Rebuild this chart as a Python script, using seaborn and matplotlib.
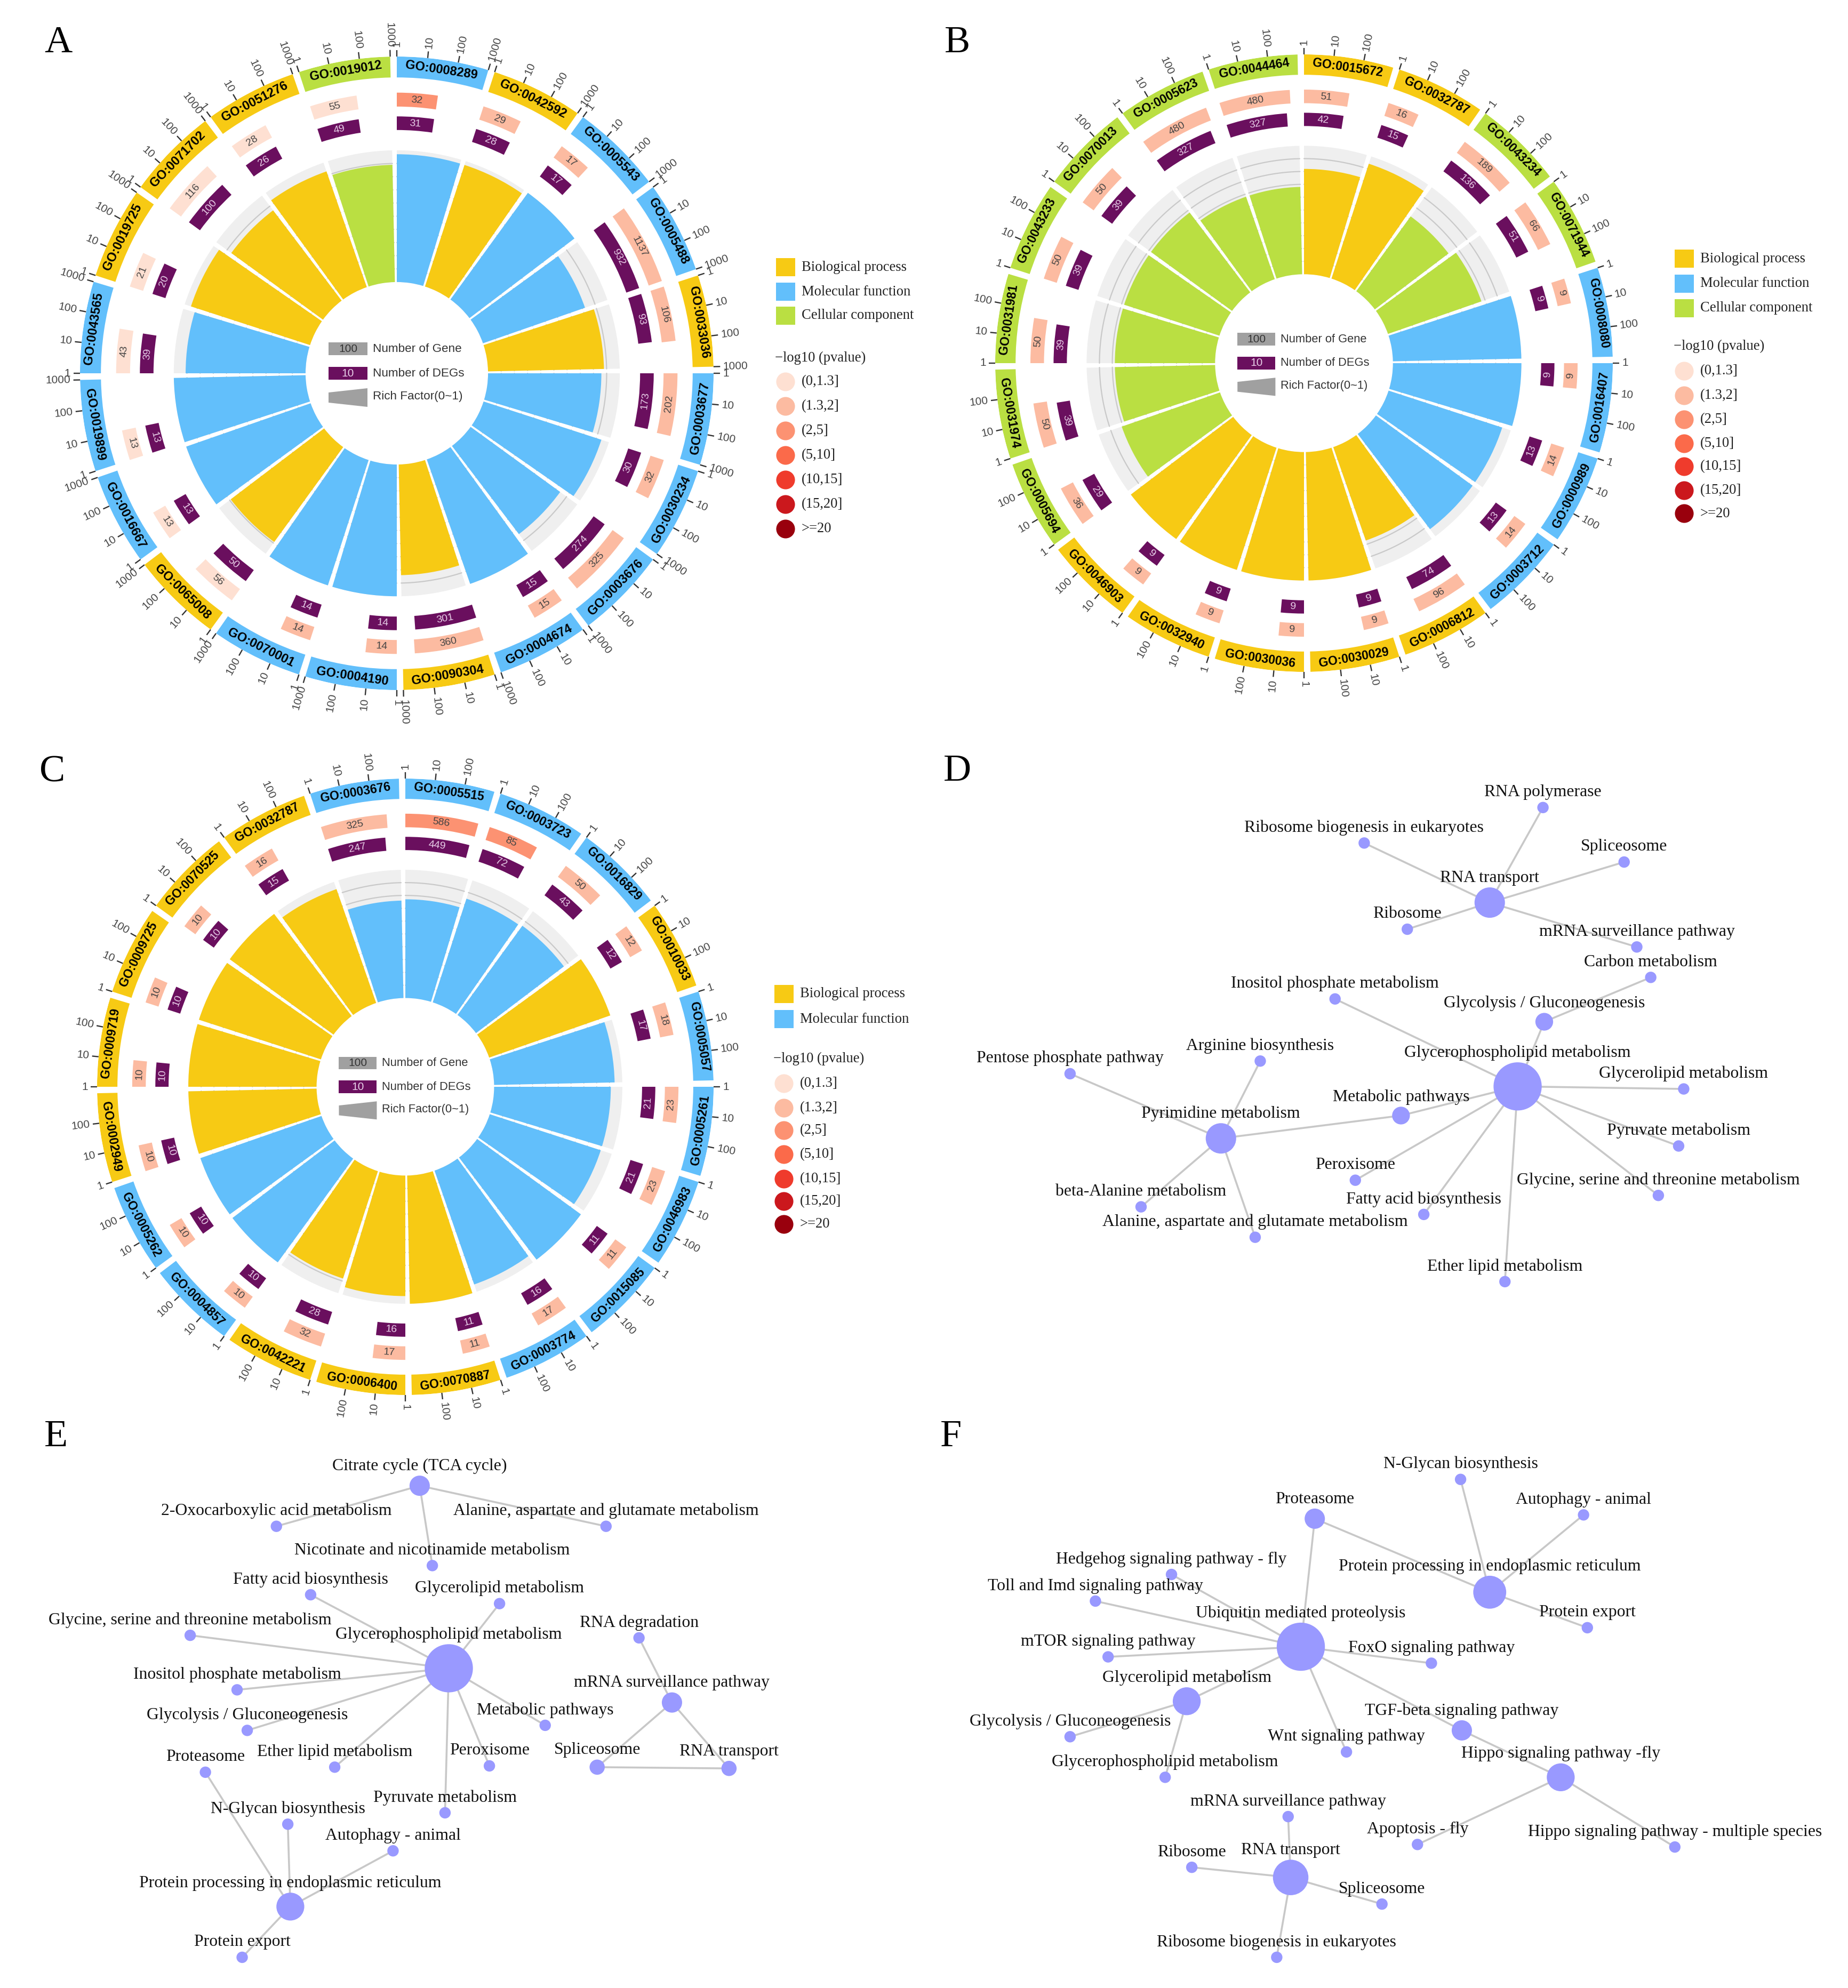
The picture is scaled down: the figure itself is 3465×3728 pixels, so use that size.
import numpy as np
import pandas as pd
import matplotlib
matplotlib.use("Agg")
import matplotlib.pyplot as plt
import seaborn as sns

sns.set_theme(style="white")
plt.rcParams['font.family'] = ['Liberation Sans', 'DejaVu Sans']

W, H = 3466, 3728
S = W / 1458  # network positions were read on the 1458 px preview
SERIF = 'Liberation Serif'

CAT_COLORS = {"BP": "#F7CA14", "MF": "#62BFFB", "CC": "#BADF42"}
CAT_NAMES = {"BP": "Biological process", "MF": "Molecular function", "CC": "Cellular component"}
REDS = ["#FEE0D2", "#FCBBA1", "#FC9272", "#FB6A4A", "#EF3B2C", "#CB181D", "#99000D"]
PV_LABELS = ["(0,1.3]", "(1.3,2]", "(2,5]", "(5,10]", "(10,15]", "(15,20]", ">=20"]
PURPLE = "#6A0F5E"
GREY = "#A0A0A0"

# ---- panel A
go_a = ["0008289", "0042592", "0005543", "0005488", "0033036", "0003677", "0030234", "0003676", "0004674", "0090304",
        "0004190", "0070001", "0065008", "0016667", "0019899", "0043565", "0019725", "0071702", "0051276", "0019012"]
cat_a = ["MF", "BP", "MF", "MF", "BP", "MF", "MF", "MF", "MF", "BP",
         "MF", "MF", "BP", "MF", "MF", "MF", "BP", "BP", "BP", "CC"]
gene_a = [32, 29, 17, 1137, 106, 202, 32, 325, 15, 360, 14, 14, 56, 13, 13, 43, 21, 116, 28, 55]
deg_a = [31, 28, 17, 932, 93, 173, 30, 274, 15, 301, 14, 14, 50, 13, 13, 39, 20, 100, 26, 49]
rich_a = [.97, .97, 1, .82, .88, .86, .94, .84, 1, .84, 1, 1, .89, 1, 1, .91, .95, .86, .93, .89]
pv_a = [2, 1, 1, 1, 1, 1, 1, 1, 1, 1, 1, 1, 0, 0, 0, 0, 0, 0, 0, 0]

# ---- panel B
go_b = ["0015672", "0032787", "0043234", "0071944", "0008080", "0016407", "0000989", "0003712", "0006812", "0030029",
        "0030036", "0032940", "0046903", "0005694", "0031974", "0031981", "0043233", "0070013", "0005623", "0044464"]
cat_b = ["BP", "BP", "CC", "CC", "MF", "MF", "MF", "MF", "BP", "BP",
         "BP", "BP", "BP", "CC", "CC", "CC", "CC", "CC", "CC", "CC"]
gene_b = [51, 16, 189, 66, 9, 9, 14, 14, 96, 9, 9, 9, 9, 36, 50, 50, 50, 50, 480, 480]
deg_b = [42, 15, 136, 51, 9, 9, 13, 13, 74, 9, 9, 9, 9, 29, 39, 39, 39, 39, 327, 327]
rich_b = [.82, .94, .72, .77, 1, 1, .93, .93, .77, 1, 1, 1, 1, .81, .78, .78, .78, .78, .68, .68]
pv_b = [1] * 20

# ---- panel C
go_c = ["0005515", "0003723", "0016829", "0010033", "0005057", "0005261", "0046983", "0015085", "0003774", "0070887",
        "0006400", "0042221", "0004857", "0005262", "0002949", "0009719", "0009725", "0070525", "0032787", "0003676"]
cat_c = ["MF", "MF", "MF", "BP", "MF", "MF", "MF", "MF", "MF", "BP",
         "BP", "BP", "MF", "MF", "BP", "BP", "BP", "BP", "BP", "MF"]
gene_c = [586, 85, 50, 12, 18, 23, 23, 11, 17, 11, 17, 32, 10, 10, 10, 10, 10, 10, 16, 325]
deg_c = [449, 72, 43, 12, 17, 21, 21, 11, 16, 11, 16, 28, 10, 10, 10, 10, 10, 10, 15, 247]
rich_c = [.77, .85, .86, 1, .94, .91, .91, 1, .94, 1, .94, .88, 1, 1, 1, 1, 1, 1, .94, .76]
pv_c = [2, 2, 1, 1, 1, 1, 1, 1, 1, 1, 1, 1, 1, 1, 1, 1, 1, 1, 1, 1]

# ---- networks: name, x, y, node radius (preview px)
net_d = [
    ("RNA polymerase", 1217, 637, 4.5), ("Ribosome biogenesis in eukaryotes", 1076, 665, 4.5),
    ("Spliceosome", 1281, 680, 4.5), ("RNA transport", 1175, 712, 12), ("Ribosome", 1110, 733, 4.5),
    ("mRNA surveillance pathway", 1291, 747, 4.5), ("Carbon metabolism", 1302, 771, 4.5),
    ("Inositol phosphate metabolism", 1053, 788, 4.5), ("Glycolysis / Gluconeogenesis", 1218, 806, 7),
    ("Glycerophospholipid metabolism", 1197, 857, 19), ("Glycerolipid metabolism", 1328, 859, 4.5),
    ("Arginine biosynthesis", 994, 837, 4.5), ("Pentose phosphate pathway", 844, 847, 4.5),
    ("Metabolic pathways", 1105, 880, 7), ("Pyrimidine metabolism", 963, 898, 12),
    ("Pyruvate metabolism", 1324, 904, 4.5), ("Peroxisome", 1069, 931, 4.5),
    ("beta-Alanine metabolism", 900, 952, 4.5), ("Fatty acid biosynthesis", 1123, 958, 4.5),
    ("Alanine, aspartate and glutamate metabolism", 990, 976, 4.5),
    ("Glycine, serine and threonine metabolism", 1308, 943, 4.5), ("Ether lipid metabolism", 1187, 1011, 4.5),
]
edges_d = [
    ("RNA transport", "RNA polymerase"), ("RNA transport", "Ribosome biogenesis in eukaryotes"),
    ("RNA transport", "Spliceosome"), ("RNA transport", "Ribosome"), ("RNA transport", "mRNA surveillance pathway"),
    ("Glycolysis / Gluconeogenesis", "Carbon metabolism"),
    ("Glycerophospholipid metabolism", "Inositol phosphate metabolism"),
    ("Glycerophospholipid metabolism", "Glycolysis / Gluconeogenesis"),
    ("Glycerophospholipid metabolism", "Glycerolipid metabolism"),
    ("Glycerophospholipid metabolism", "Metabolic pathways"),
    ("Glycerophospholipid metabolism", "Pyruvate metabolism"),
    ("Glycerophospholipid metabolism", "Peroxisome"),
    ("Glycerophospholipid metabolism", "Fatty acid biosynthesis"),
    ("Glycerophospholipid metabolism", "Glycine, serine and threonine metabolism"),
    ("Glycerophospholipid metabolism", "Ether lipid metabolism"),
    ("Pyrimidine metabolism", "Arginine biosynthesis"), ("Pyrimidine metabolism", "Pentose phosphate pathway"),
    ("Pyrimidine metabolism", "Metabolic pathways"), ("Pyrimidine metabolism", "beta-Alanine metabolism"),
    ("Pyrimidine metabolism", "Alanine, aspartate and glutamate metabolism"),
]

net_e = [
    ("Citrate cycle (TCA cycle)", 331, 1172, 8), ("2-Oxocarboxylic acid metabolism", 218, 1204, 4.5),
    ("Alanine, aspartate and glutamate metabolism", 478, 1204, 4.5),
    ("Nicotinate and nicotinamide metabolism", 341, 1235, 4.5), ("Fatty acid biosynthesis", 245, 1258, 4.5),
    ("Glycerolipid metabolism", 394, 1265, 4.5), ("Glycine, serine and threonine metabolism", 150, 1290, 4.5),
    ("RNA degradation", 504, 1292, 4.5), ("Glycerophospholipid metabolism", 354, 1316, 19),
    ("Inositol phosphate metabolism", 187, 1333, 4.5), ("mRNA surveillance pathway", 530, 1343, 8),
    ("Metabolic pathways", 430, 1361, 4.5), ("Glycolysis / Gluconeogenesis", 195, 1365, 4.5),
    ("Ether lipid metabolism", 264, 1394, 4.5), ("Peroxisome", 386, 1393, 4.5), ("Spliceosome", 471, 1394, 6),
    ("RNA transport", 575, 1395, 6), ("Proteasome", 162, 1398, 4.5), ("Pyruvate metabolism", 351, 1430, 4.5),
    ("N-Glycan biosynthesis", 227, 1439, 4.5), ("Autophagy - animal", 310, 1460, 4.5),
    ("Protein processing in endoplasmic reticulum", 229, 1504, 11), ("Protein export", 191, 1544, 4.5),
]
edges_e = [
    ("Citrate cycle (TCA cycle)", "2-Oxocarboxylic acid metabolism"),
    ("Citrate cycle (TCA cycle)", "Alanine, aspartate and glutamate metabolism"),
    ("Citrate cycle (TCA cycle)", "Nicotinate and nicotinamide metabolism"),
    ("Glycerophospholipid metabolism", "Fatty acid biosynthesis"),
    ("Glycerophospholipid metabolism", "Glycerolipid metabolism"),
    ("Glycerophospholipid metabolism", "Glycine, serine and threonine metabolism"),
    ("Glycerophospholipid metabolism", "Inositol phosphate metabolism"),
    ("Glycerophospholipid metabolism", "Metabolic pathways"),
    ("Glycerophospholipid metabolism", "Glycolysis / Gluconeogenesis"),
    ("Glycerophospholipid metabolism", "Ether lipid metabolism"),
    ("Glycerophospholipid metabolism", "Peroxisome"), ("Glycerophospholipid metabolism", "Pyruvate metabolism"),
    ("mRNA surveillance pathway", "RNA degradation"), ("mRNA surveillance pathway", "Spliceosome"),
    ("mRNA surveillance pathway", "RNA transport"), ("Spliceosome", "RNA transport"),
    ("Protein processing in endoplasmic reticulum", "Proteasome"),
    ("Protein processing in endoplasmic reticulum", "N-Glycan biosynthesis"),
    ("Protein processing in endoplasmic reticulum", "Autophagy - animal"),
    ("Protein processing in endoplasmic reticulum", "Protein export"),
]

net_f = [
    ("N-Glycan biosynthesis", 1152, 1167, 4.5), ("Autophagy - animal", 1249, 1195, 4.5), ("Proteasome", 1037, 1198, 8),
    ("Hedgehog signaling pathway - fly", 924, 1242, 4.5),
    ("Protein processing in endoplasmic reticulum", 1175, 1256, 13),
    ("Toll and Imd signaling pathway", 864, 1263, 4.5), ("Protein export", 1252, 1284, 4.5),
    ("Ubiquitin mediated proteolysis", 1026, 1299, 19), ("FoxO signaling pathway", 1129, 1312, 4.5),
    ("mTOR signaling pathway", 874, 1307, 4.5), ("Glycerolipid metabolism", 936, 1342, 11),
    ("TGF-beta signaling pathway", 1153, 1365, 8), ("Glycolysis / Gluconeogenesis", 844, 1370, 4.5),
    ("Wnt signaling pathway", 1062, 1382, 4.5), ("Hippo signaling pathway -fly", 1231, 1402, 11),
    ("Glycerophospholipid metabolism", 919, 1402, 4.5), ("mRNA surveillance pathway", 1016, 1433, 4.5),
    ("Apoptosis - fly", 1118, 1455, 4.5), ("Hippo signaling pathway - multiple species", 1321, 1457, 4.5),
    ("Ribosome", 940, 1473, 4.5), ("RNA transport", 1018, 1481, 14), ("Spliceosome", 1090, 1502, 4.5),
    ("Ribosome biogenesis in eukaryotes", 1007, 1544, 4.5),
]
edges_f = [
    ("Proteasome", "Ubiquitin mediated proteolysis"), ("Proteasome", "Protein processing in endoplasmic reticulum"),
    ("Protein processing in endoplasmic reticulum", "N-Glycan biosynthesis"),
    ("Protein processing in endoplasmic reticulum", "Autophagy - animal"),
    ("Protein processing in endoplasmic reticulum", "Protein export"),
    ("Ubiquitin mediated proteolysis", "Hedgehog signaling pathway - fly"),
    ("Ubiquitin mediated proteolysis", "Toll and Imd signaling pathway"),
    ("Ubiquitin mediated proteolysis", "FoxO signaling pathway"),
    ("Ubiquitin mediated proteolysis", "mTOR signaling pathway"),
    ("Ubiquitin mediated proteolysis", "Glycerolipid metabolism"),
    ("Ubiquitin mediated proteolysis", "Wnt signaling pathway"),
    ("Ubiquitin mediated proteolysis", "TGF-beta signaling pathway"),
    ("Glycerolipid metabolism", "Glycolysis / Gluconeogenesis"),
    ("Glycerolipid metabolism", "Glycerophospholipid metabolism"),
    ("TGF-beta signaling pathway", "Hippo signaling pathway -fly"),
    ("Hippo signaling pathway -fly", "Apoptosis - fly"),
    ("Hippo signaling pathway -fly", "Hippo signaling pathway - multiple species"),
    ("RNA transport", "mRNA surveillance pathway"), ("RNA transport", "Ribosome"),
    ("RNA transport", "Spliceosome"), ("RNA transport", "Ribosome biogenesis in eukaryotes"),
]

fig = plt.figure(figsize=(W / 100, H / 100), dpi=100, facecolor="white")

# page axes in pixels, for everything that is not on a circle
page = fig.add_axes([0, 0, 1, 1])
page.set_xlim(0, W)
page.set_ylim(H, 0)
page.set_axis_off()


def draw_circle(cx, cy, R, go, cats, genes, degs, rich, pvs, n_ticks):
    ax = fig.add_axes([(cx - R) / W, 1 - (cy + R) / H, 2 * R / W, 2 * R / H], polar=True)
    ax.set_theta_zero_location("N")
    ax.set_theta_direction(-1)
    ax.set_axis_off()

    step = np.deg2rad(18)
    width = np.deg2rad(16.8)
    r_in, r_rich = 0.288, 0.704
    tick_names = ["1", "10", "100", "1000"]

    for i in range(len(go)):
        t0 = i * step
        color = CAT_COLORS[cats[i]]
        mid = np.rad2deg(t0 + width / 2)

        # rich factor sector with its grey backing and grid arcs
        ax.bar(t0, r_rich - r_in, width=width, bottom=r_in, align="edge", color="#EFEFEF", linewidth=0, zorder=1)
        arc = np.linspace(t0, t0 + width, 30)
        for f in np.arange(0.1, 0.95, 0.1):
            ax.plot(arc, np.full(30, r_in + f * (r_rich - r_in)), color="#C9C9C9", lw=1.6, zorder=2)
        ax.bar(t0, rich[i] * (r_rich - r_in), width=width, bottom=r_in, align="edge", color=color, linewidth=0, zorder=3)

        # outer GO band
        ax.bar(t0, 1 - 0.934, width=width, bottom=0.934, align="edge", color=color, linewidth=0, zorder=3)
        rot = -mid if np.cos(np.deg2rad(mid)) > 0 else 180 - mid
        ax.text(np.deg2rad(mid), 0.967, "GO:" + go[i], rotation=rot, rotation_mode="anchor", ha="center", va="center",
                fontsize=17 * R / 594, fontweight="bold", color="black", zorder=5)

        # gene and DEG rings, length on a log scale up to 1000
        for val, r0, r1, fc, tc in [(genes[i], 0.842, 0.886, REDS[pvs[i]], "#444444"),
                                    (degs[i], 0.768, 0.811, PURPLE, "#E8CFE8")]:
            span = min(np.log10(val) / 3, 1) * width
            ax.bar(t0, r1 - r0, width=span, bottom=r0, align="edge", color=fc, linewidth=0, zorder=3)
            m = np.rad2deg(t0 + span / 2)
            rot = -m if np.cos(np.deg2rad(m)) > 0 else 180 - m
            ax.text(np.deg2rad(m), (r0 + r1) / 2, str(val), rotation=rot, rotation_mode="anchor", ha="center",
                    va="center", fontsize=14, color=tc, zorder=5)

        # log axis ticks outside the band
        for k in range(n_ticks):
            t = t0 + k / 3 * width
            ax.plot([t, t], [1.0, 1.021], color="#333333", lw=1.7, zorder=4, solid_capstyle="butt", clip_on=False)
            deg = np.rad2deg(t)
            if deg <= 180:
                rot, ha = 90 - deg, "left"
            else:
                rot, ha = 270 - deg, "right"
            ax.text(t, 1.03, tick_names[k], rotation=rot, rotation_mode="anchor", ha=ha, va="center",
                    fontsize=15, color="#444444", zorder=5)

    ax.set_xlim(0, 2 * np.pi)
    ax.set_ylim(0, 1)

    # key in the middle of the circle
    k = R / 594
    x0, x1, xt = cx - 128 * k, cx - 55 * k, cx - 45 * k
    page.fill([x0, x1, x1, x0], [cy - 58 * k, cy - 58 * k, cy - 34 * k, cy - 34 * k], color=GREY, lw=0)
    page.fill([x0, x1, x1, x0], [cy - 12 * k, cy - 12 * k, cy + 12 * k, cy + 12 * k], color=PURPLE, lw=0)
    page.fill([x0, x1, x1, x0], [cy + 36 * k, cy + 28 * k, cy + 63 * k, cy + 55 * k], color=GREY, lw=0)
    xm = (x0 + x1) / 2
    page.text(xm, cy - 46 * k, "100", ha="center", va="center", fontsize=15, color="#333333")
    page.text(xm, cy, "10", ha="center", va="center", fontsize=15, color="#E8CFE8")
    for yy, name in [(-46, "Number of Gene"), (0, "Number of DEGs"), (44, "Rich Factor(0~1)")]:
        page.text(xt, cy + yy * k, name, ha="left", va="center", fontsize=16.2 * k, color="#333333")


def draw_legend(x_box, x_text, cat_y, cat_list, title_y, pv_y):
    for y, c in zip(cat_y, cat_list):
        page.fill([x_box, x_box + 36, x_box + 36, x_box], [y - 17, y - 17, y + 17, y + 17], color=CAT_COLORS[c], lw=0)
        page.text(x_text, y, CAT_NAMES[c], ha="left", va="center", family=SERIF, fontsize=19.2, color="#222222")
    page.text(x_box - 2, title_y, "\u2212log10 (pvalue)", ha="left", va="center", family=SERIF, fontsize=19.2,
              color="#222222")
    sns.scatterplot(x=[x_box + 18] * 7, y=pv_y, hue=PV_LABELS, palette=REDS, s=640, linewidth=0, legend=False, ax=page)
    for y, name in zip(pv_y, PV_LABELS):
        page.text(x_text, y, name, ha="left", va="center", family=SERIF, fontsize=19.2, color="#222222")


def draw_network(nodes, edges):
    df = pd.DataFrame(nodes, columns=["name", "x", "y", "r"])
    df["x"] *= S
    df["y"] *= S
    pos = df.set_index("name")
    for a, b in edges:
        page.plot([pos.x[a], pos.x[b]], [pos.y[a], pos.y[b]], color="#C8C8C8", lw=2.6, zorder=1)
    df["area"] = (2 * df["r"] * S * 0.72) ** 2
    sns.scatterplot(data=df, x="x", y="y", s=df["area"], color="#9999FF", linewidth=0, legend=False, ax=page, zorder=2)
    for _, row in df.iterrows():
        page.text(row.x, row.y - (row.r + 7.5) * S, row["name"], ha="center", va="center", family=SERIF,
                  fontsize=22.9, color="#111111", zorder=3)


draw_circle(744, 700, 594, go_a, cat_a, gene_a, deg_a, rich_a, pv_a, 4)
draw_circle(2445, 681, 579, go_b, cat_b, gene_b, deg_b, rich_b, pv_b, 3)
draw_circle(760, 2038, 578, go_c, cat_c, gene_c, deg_c, rich_c, pv_c, 3)

draw_legend(1455, 1503, [501, 547, 592], ["BP", "MF", "CC"], 671, [716, 762, 808, 854, 900, 946, 992])
draw_legend(3140, 3188, [485, 532, 578], ["BP", "MF", "CC"], 649, [696, 742, 787, 832, 875, 920, 963])
draw_legend(1452, 1500, [1864, 1911], ["BP", "MF"], 1985, [2032, 2078, 2120, 2165, 2211, 2253, 2296])

draw_network(net_d, edges_d)
draw_network(net_e, edges_e)
draw_network(net_f, edges_f)

page.set_xlim(0, W)
page.set_ylim(H, 0)
page.set_xlabel("")
page.set_ylabel("")

# panel letters
for letter, x, y in [("A", 109, 80), ("B", 1795, 80), ("C", 98, 1448), ("D", 1795, 1446), ("E", 105, 2694),
                     ("F", 1783, 2694)]:
    page.text(x, y, letter, ha="center", va="center", family=SERIF, fontsize=52, color="black")

fig.savefig("out.png", dpi=100, facecolor="white")
